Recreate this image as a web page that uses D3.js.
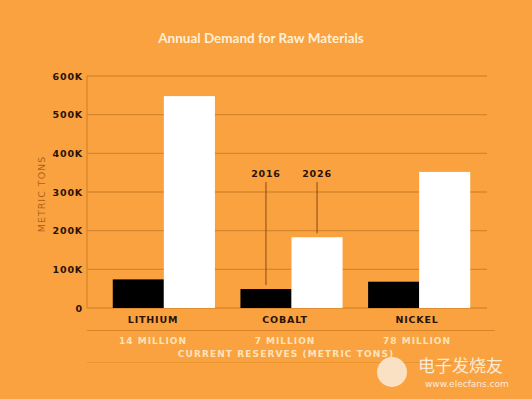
<!DOCTYPE html>
<html>
<head>
<meta charset="utf-8">
<script src="https://cdn.jsdelivr.net/npm/d3@7"></script>
<style>
  body { margin: 0; background: #f9a23f; }
  svg { display: block; }
  .grid line { stroke: #d7872b; stroke-width: 1.3; }
  .tick-lab { font-family: "DejaVu Sans", sans-serif; font-weight: bold; font-size: 9.5px; fill: #2a1208; letter-spacing: 0.8px; }
</style>
</head>
<body>
<div id="chart"></div>
<script>
var w = 532, h = 399;

// Data
var materials = ["LITHIUM", "COBALT", "NICKEL"];
var reserves = ["14 MILLION", "7 MILLION", "78 MILLION"];
var years = ["2016", "2026"];
var demand2016 = [74000, 49000, 68000];
var demand2026 = [548000, 183000, 352000];
var yTicks = [0, 100000, 200000, 300000, 400000, 500000, 600000];
var yTickLabels = ["0", "100K", "200K", "300K", "400K", "500K", "600K"];

var svg = d3.select("#chart").append("svg:svg")
	.attr("width", w)
	.attr("height", h);

svg.append("rect")
	.attr("width", w)
	.attr("height", h)
	.attr("fill", "#f9a23f");

// Scales
var x = d3.scaleBand()
	.domain(materials)
	.range([100, 483])
	.paddingInner(0.2)
	.paddingOuter(0.1);

var xSub = d3.scaleBand()
	.domain(years)
	.range([0, x.bandwidth()]);

// labels sit a little left of the bar groups
var xLab = d3.scalePoint()
	.domain(materials)
	.range([153, 417]);

var y = d3.scaleLinear()
	.domain([0, 600000])
	.range([308, 76]);

// Title
svg.append("text")
	.attr("x", 261)
	.attr("y", 43)
	.attr("text-anchor", "middle")
	.attr("font-family", "Lato, sans-serif")
	.attr("font-weight", "bold")
	.attr("font-size", "13.5px")
	.attr("fill", "#fff0d6")
	.text("Annual Demand for Raw Materials");

// Grid
var grid = svg.append("g").attr("class", "grid");
grid.selectAll("line.h")
	.data(yTicks)
	.enter()
	.append("line")
		.attr("class", "h")
		.attr("x1", 87)
		.attr("x2", 487)
		.attr("y1", function(d) { return y(d); })
		.attr("y2", function(d) { return y(d); });

grid.append("line")
	.attr("x1", 87).attr("x2", 87)
	.attr("y1", y(600000)).attr("y2", y(0));

// Y tick labels
svg.selectAll("text.ylab")
	.data(yTicks)
	.enter()
	.append("text")
		.attr("class", "tick-lab")
		.attr("x", 83)
		.attr("y", function(d) { return y(d) + 3.5; })
		.attr("text-anchor", "end")
		.text(function(d, i) { return yTickLabels[i]; });

// Y axis title
svg.append("text")
	.attr("transform", "translate(45,194) rotate(-90)")
	.attr("text-anchor", "middle")
	.attr("font-family", "DejaVu Sans, sans-serif")
	.attr("font-size", "9.5px")
	.attr("letter-spacing", "1px")
	.attr("fill", "#ad621b")
	.text("METRIC TONS");

// Bars
var groups = svg.selectAll("g.group")
	.data(materials)
	.enter()
	.append("g")
		.attr("class", "group")
		.attr("transform", function(d) { return "translate(" + x(d) + ",0)"; });

groups.append("rect")
	.attr("x", xSub("2016"))
	.attr("width", xSub.bandwidth())
	.attr("y", function(d, i) { return y(demand2016[i]); })
	.attr("height", function(d, i) { return y(0) - y(demand2016[i]); })
	.attr("fill", "#000");

groups.append("rect")
	.attr("x", xSub("2026"))
	.attr("width", xSub.bandwidth())
	.attr("y", function(d, i) { return y(demand2026[i]); })
	.attr("height", function(d, i) { return y(0) - y(demand2026[i]); })
	.attr("fill", "#fff");

// Year callouts on cobalt
var cx = x("COBALT");
var callout = svg.append("g");
callout.append("line")
	.attr("x1", cx + xSub("2016") + xSub.bandwidth() / 2)
	.attr("x2", cx + xSub("2016") + xSub.bandwidth() / 2)
	.attr("y1", 182)
	.attr("y2", y(demand2016[1]) - 4)
	.attr("stroke", "#8a4a12").attr("stroke-width", 1);
callout.append("line")
	.attr("x1", cx + xSub("2026") + xSub.bandwidth() / 2)
	.attr("x2", cx + xSub("2026") + xSub.bandwidth() / 2)
	.attr("y1", 182)
	.attr("y2", y(demand2026[1]) - 4)
	.attr("stroke", "#8a4a12").attr("stroke-width", 1);
callout.selectAll("text")
	.data(years)
	.enter()
	.append("text")
		.attr("class", "tick-lab")
		.attr("x", function(d) { return cx + xSub(d) + xSub.bandwidth() / 2; })
		.attr("y", 177)
		.attr("text-anchor", "middle")
		.text(function(d) { return d; });

// Bottom rules
svg.append("line")
	.attr("x1", 87).attr("x2", 495)
	.attr("y1", 330.5).attr("y2", 330.5)
	.attr("stroke", "#d7872b").attr("stroke-width", 1.2);
svg.append("line")
	.attr("x1", 87).attr("x2", 495)
	.attr("y1", 362.5).attr("y2", 362.5)
	.attr("stroke", "#e8952f").attr("stroke-width", 1);

// Category labels
svg.selectAll("text.cat")
	.data(materials)
	.enter()
	.append("text")
		.attr("class", "tick-lab")
		.attr("x", function(d) { return xLab(d); })
		.attr("y", 323)
		.attr("text-anchor", "middle")
		.text(function(d) { return d; });

// Reserves
svg.selectAll("text.res")
	.data(materials)
	.enter()
	.append("text")
		.attr("x", function(d) { return xLab(d); })
		.attr("y", 344)
		.attr("text-anchor", "middle")
		.attr("font-family", "DejaVu Sans, sans-serif")
		.attr("font-weight", "bold")
		.attr("font-size", "9px")
		.attr("letter-spacing", "1px")
		.attr("fill", "#fde3bb")
		.text(function(d, i) { return reserves[i]; });

svg.append("text")
	.attr("x", 286)
	.attr("y", 357)
	.attr("text-anchor", "middle")
	.attr("font-family", "DejaVu Sans, sans-serif")
	.attr("font-weight", "bold")
	.attr("font-size", "9px")
	.attr("letter-spacing", "1.1px")
	.attr("fill", "#fde3bb")
	.text("CURRENT RESERVES (METRIC TONS)");

// Watermark
var wm = svg.append("g").attr("opacity", 0.92);
wm.append("circle")
	.attr("cx", 392).attr("cy", 372).attr("r", 15)
	.attr("fill", "#fbe7cf");
wm.append("text")
	.attr("x", 418).attr("y", 372)
	.attr("font-family", "Noto Sans CJK SC, sans-serif")
	.attr("font-size", "17px")
	.attr("fill", "#fdf1e2")
	.text("电子发烧友");
wm.append("text")
	.attr("x", 425).attr("y", 387)
	.attr("font-family", "DejaVu Sans, sans-serif")
	.attr("font-size", "9px")
	.attr("fill", "#fdf1e2")
	.text("www.elecfans.com");
</script>
</body>
</html>
